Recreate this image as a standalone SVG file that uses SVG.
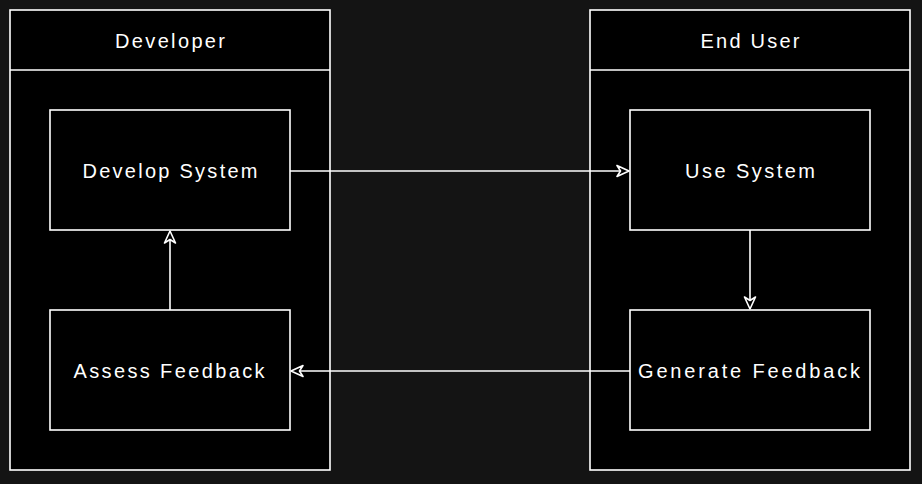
<svg xmlns="http://www.w3.org/2000/svg" width="922" height="484" viewBox="0 0 922 484">
<defs>
<style>
.lane{fill:#000000;stroke:#ffffff;stroke-width:1.6}
.node{fill:#000000;stroke:#ffffff;stroke-width:1.6}
.txt{font-family:"Liberation Sans",Arial,sans-serif;font-size:20px;fill:#ffffff;text-anchor:middle}
.edge{fill:none;stroke:#ffffff;stroke-width:1.6}
</style>
<marker id="arr" viewBox="0 0 14 14" refX="13" refY="7" markerWidth="14" markerHeight="14" markerUnits="userSpaceOnUse" orient="auto">
<path d="M1,1.5 L13,7 L1,12.5 L4.5,7 Z" fill="#000000" stroke="#ffffff" stroke-width="1.6" stroke-linejoin="round"/>
</marker>
</defs>
<rect width="922" height="484" fill="#141414"/>
<g id="lane-developer">
<rect class="lane" x="10" y="10" width="320" height="460"/>
<line x1="10" y1="70" x2="330" y2="70" stroke="#ffffff" stroke-width="1.6"/>
<text class="txt" x="170" y="48" textLength="110" lengthAdjust="spacing">Developer</text>
</g>
<g id="lane-enduser">
<rect class="lane" x="590" y="10" width="320" height="460"/>
<line x1="590" y1="70" x2="910" y2="70" stroke="#ffffff" stroke-width="1.6"/>
<text class="txt" x="750" y="48" textLength="99" lengthAdjust="spacing">End User</text>
</g>
<g id="connectors">
<path class="edge" d="M290,171 L629,171" marker-end="url(#arr)"/>
<path class="edge" d="M750,230 L750,309" marker-end="url(#arr)"/>
<path class="edge" d="M630,371 L291,371" marker-end="url(#arr)"/>
<path class="edge" d="M170,310 L170,231" marker-end="url(#arr)"/>
</g>
<g id="node-develop-system">
<rect class="node" x="50" y="110" width="240" height="120"/>
<text class="txt" x="170" y="178" textLength="175" lengthAdjust="spacing">Develop System</text>
</g>
<g id="node-assess-feedback">
<rect class="node" x="50" y="310" width="240" height="120"/>
<text class="txt" x="169" y="378" textLength="191" lengthAdjust="spacing">Assess Feedback</text>
</g>
<g id="node-use-system">
<rect class="node" x="630" y="110" width="240" height="120"/>
<text class="txt" x="750" y="178" textLength="130" lengthAdjust="spacing">Use System</text>
</g>
<g id="node-generate-feedback">
<rect class="node" x="630" y="310" width="240" height="120"/>
<text class="txt" x="749" y="378" textLength="222" lengthAdjust="spacing">Generate Feedback</text>
</g>
</svg>
